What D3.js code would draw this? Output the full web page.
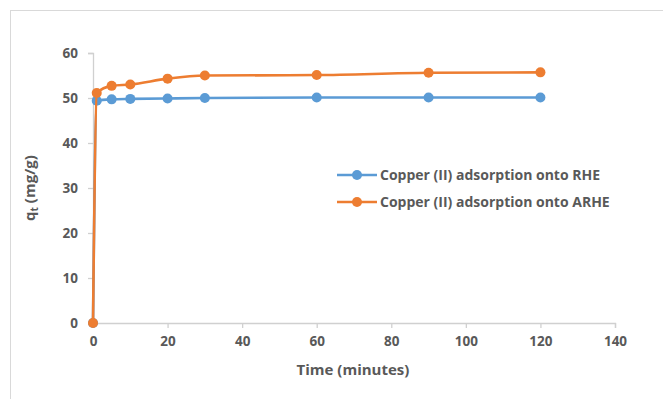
<!DOCTYPE html>
<html>
<head>
<meta charset="utf-8">
<script src="https://cdn.jsdelivr.net/npm/d3@7"></script>
<style>
  body { margin: 0; background: #fff; }
  text { font-family: "Open Sans", "Liberation Sans", sans-serif; font-weight: bold; fill: #595959; }
</style>
</head>
<body>
<div id="chart"></div>
<script>
// Data
var times = [0, 1, 5, 10, 20, 30, 60, 90, 120];
var rheValues = [0, 49.4, 49.7, 49.8, 49.9, 50.0, 50.1, 50.1, 50.1];
var arheValues = [0, 51.1, 52.7, 53.0, 54.3, 55.0, 55.1, 55.6, 55.7];
var seriesNames = ["Copper (II) adsorption onto RHE", "Copper (II) adsorption onto ARHE"];
var seriesColors = ["#5B9BD5", "#ED7D31"];
var xTicks = [0, 20, 40, 60, 80, 100, 120, 140];
var yTicks = [0, 10, 20, 30, 40, 50, 60];

var svgWidth = 663;
var svgHeight = 399;
var margin = { top: 53, right: 48, bottom: 76, left: 93 };
var width = svgWidth - margin.left - margin.right;
var height = svgHeight - margin.top - margin.bottom;

var svg = d3.select("#chart")
  .append("svg")
  .attr("width", svgWidth)
  .attr("height", svgHeight);

// outer frame (right and bottom edges run off the picture)
svg.append("rect")
  .attr("x", 10.5).attr("y", 10.5)
  .attr("width", 660).attr("height", 400)
  .attr("fill", "none")
  .attr("stroke", "#d9d9d9");

var chart = svg.append("g").attr("transform", `translate(${margin.left}, ${margin.top})`);

var xScale = d3.scaleLinear().domain([0, 140]).range([0, width]);
var yScale = d3.scaleLinear().domain([0, 60]).range([height, 0]);

// Axes
var bottomAxis = d3.axisBottom(xScale).tickValues(xTicks).tickSize(5).tickPadding(8);
var leftAxis = d3.axisLeft(yScale).tickValues(yTicks).tickSize(5).tickPadding(10);

var xg = chart.append("g").attr("transform", `translate(0, ${height})`).call(bottomAxis);
var yg = chart.append("g").call(leftAxis);

[xg, yg].forEach(function(g) {
  g.selectAll("path, line").attr("stroke", "#d0d0d0").attr("stroke-width", 1.3);
  g.selectAll("text").attr("font-size", 13.5).style("fill", "#595959");
});

// Axis titles
chart.append("text")
  .attr("x", width / 2 - 1)
  .attr("y", height + 52)
  .attr("text-anchor", "middle")
  .attr("font-size", 15)
  .text("Time (minutes)");

var yTitle = chart.append("text")
  .attr("transform", `translate(-58, ${height / 2}) rotate(-90)`)
  .attr("text-anchor", "middle")
  .attr("font-size", 15);
yTitle.append("tspan").text("q");
yTitle.append("tspan").attr("font-size", 10).attr("dy", 3).text("t");
yTitle.append("tspan").attr("dy", -3).text(" (mg/g)");

// Lines
var line = d3.line()
  .x(function(d) { return xScale(d[0]); })
  .y(function(d) { return yScale(d[1]); })
  .curve(d3.curveMonotoneX);

[rheValues, arheValues].forEach(function(vals, i) {
  var pts = times.map(function(t, j) { return [t, vals[j]]; });
  var g = chart.append("g");
  g.append("path")
    .datum(pts)
    .attr("fill", "none")
    .attr("stroke", seriesColors[i])
    .attr("stroke-width", 2.6)
    .attr("d", line);
  g.selectAll("circle")
    .data(pts)
    .enter()
    .append("circle")
    .attr("cx", function(d) { return xScale(d[0]); })
    .attr("cy", function(d) { return yScale(d[1]); })
    .attr("r", 5)
    .attr("fill", seriesColors[i]);
});

// Legend
var legend = svg.append("g").attr("transform", "translate(337, 175)");
seriesNames.forEach(function(name, i) {
  var row = legend.append("g").attr("transform", `translate(0, ${i * 27})`);
  row.append("line")
    .attr("x1", 0).attr("x2", 40)
    .attr("stroke", seriesColors[i])
    .attr("stroke-width", 2.6);
  row.append("circle").attr("cx", 20).attr("r", 5).attr("fill", seriesColors[i]);
  row.append("text")
    .attr("x", 43)
    .attr("dy", "0.35em")
    .attr("font-size", 14)
    .text(name);
});
</script>
</body>
</html>
